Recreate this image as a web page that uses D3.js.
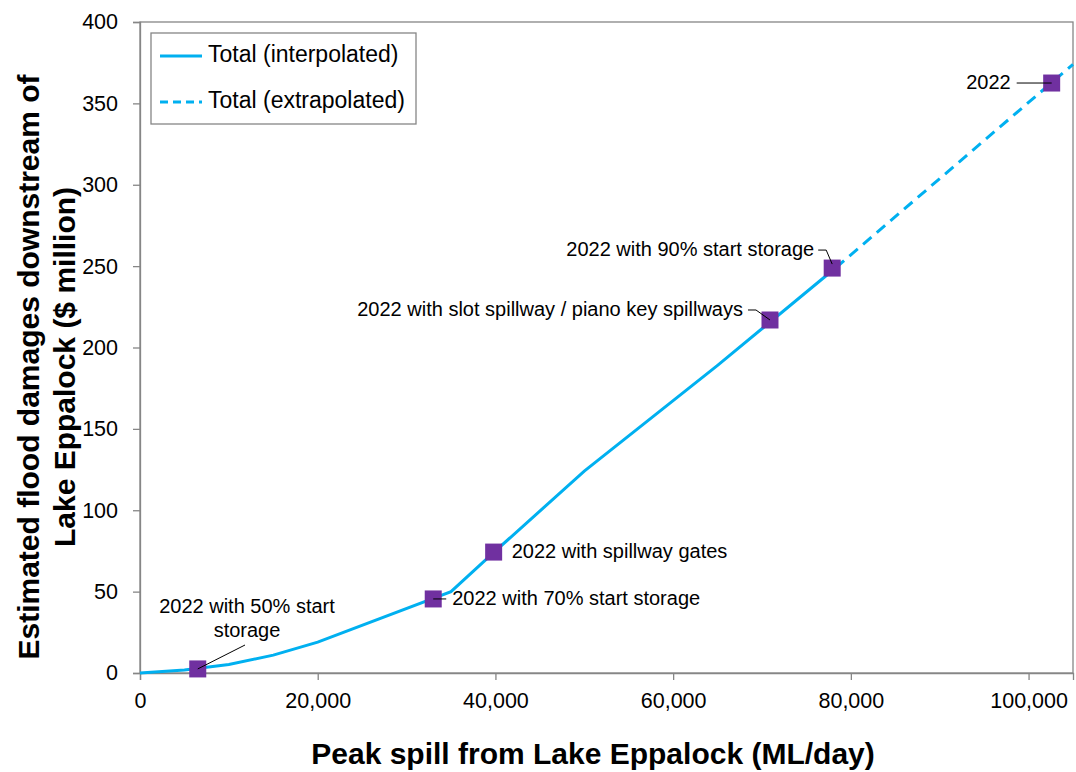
<!DOCTYPE html>
<html>
<head>
<meta charset="utf-8">
<script src="https://cdn.jsdelivr.net/npm/d3@7"></script>
<style>
  html, body { margin: 0; padding: 0; background: #fff; }
  svg { display: block; font-family: Arial, "Liberation Sans", sans-serif; }
</style>
</head>
<body>
<svg id="chart" width="1076" height="772"></svg>
<script>
// Peak spill (ML/day) vs estimated flood damages ($ million)
const interpSpill   = [0, 5000, 10000, 15000, 20000, 35000, 40000, 50000, 65000, 78300];
const interpDamage  = [0, 1.8, 5.2, 11, 19, 50, 75, 124, 189, 249];
const extrapSpill   = [78300, 105000];
const extrapDamage  = [249, 374];

const scenarioNames  = [
  "2022 with 50% start storage",
  "2022 with 70% start storage",
  "2022 with spillway gates",
  "2022 with slot spillway / piano key spillways",
  "2022 with 90% start storage",
  "2022"
];
const scenarioSpill  = [6500, 33000, 39800, 70900, 77900, 102600];
const scenarioDamage = [2.5, 45.5, 74.3, 216.9, 248.8, 362.5];

const xTicks = [0, 20000, 40000, 60000, 80000, 100000];
const yTicks = [0, 50, 100, 150, 200, 250, 300, 350, 400];

const lineColor = "#00B0F0";
const markerColor = "#7030A0";
const axisColor = "#868686";

const margin = { left: 140, top: 22, right: 1073, bottom: 673 };
const svg = d3.select("#chart");

const x = d3.scaleLinear().domain([0, 105000]).range([margin.left, margin.right]);
const y = d3.scaleLinear().domain([0, 400]).range([margin.bottom, margin.top]);

// plot frame
svg.append("rect")
  .attr("x", margin.left).attr("y", margin.top)
  .attr("width", margin.right - margin.left).attr("height", margin.bottom - margin.top)
  .attr("fill", "none").attr("stroke", axisColor).attr("stroke-width", 1.3);

// axes
const fmt = d3.format(",");
const xAxis = svg.append("g").attr("transform", `translate(0,${margin.bottom})`)
  .call(d3.axisBottom(x).tickValues(xTicks).tickFormat(fmt).tickSize(7).tickPadding(13));
const yAxis = svg.append("g").attr("transform", `translate(${margin.left},0)`)
  .call(d3.axisLeft(y).tickValues(yTicks).tickSize(7).tickPadding(15));
[xAxis, yAxis].forEach(g => {
  g.select(".domain").attr("stroke", axisColor).attr("stroke-width", 1.3);
  g.selectAll(".tick line").attr("stroke", axisColor).attr("stroke-width", 1.3);
  g.selectAll(".tick text").attr("fill", "#000").attr("font-size", 21.5)
    .attr("font-family", "Arial, 'Liberation Sans', sans-serif");
});

// axis titles
svg.append("text")
  .attr("x", 593).attr("y", 764)
  .attr("text-anchor", "middle").attr("font-size", 30).attr("font-weight", "bold")
  .text("Peak spill from Lake Eppalock (ML/day)");
const yt = svg.append("text")
  .attr("transform", "translate(0,367) rotate(-90)")
  .attr("text-anchor", "middle").attr("font-size", 30).attr("font-weight", "bold");
yt.append("tspan").attr("x", 0).attr("y", 39).text("Estimated flood damages downstream of");
yt.append("tspan").attr("x", 0).attr("y", 75).text("Lake Eppalock ($ million)");

// damage curves
const line = d3.line().x(d => x(d[0])).y(d => y(d[1]));
svg.append("path")
  .datum(interpSpill.map((s, i) => [s, interpDamage[i]]))
  .attr("d", line).attr("fill", "none")
  .attr("stroke", lineColor).attr("stroke-width", 3);
svg.append("path")
  .datum(extrapSpill.map((s, i) => [s, extrapDamage[i]]))
  .attr("d", line).attr("fill", "none")
  .attr("stroke", lineColor).attr("stroke-width", 3).attr("stroke-dasharray", "11,7");

// scenario labels and leader lines
const lbl = (text, lx, ly, anchor) => {
  svg.append("text").attr("x", lx).attr("y", ly).attr("text-anchor", anchor)
    .attr("font-size", 20).attr("dominant-baseline", "middle").text(text);
};
const leader = (pts) => {
  svg.append("path").attr("d", d3.line()(pts)).attr("fill", "none")
    .attr("stroke", "#000").attr("stroke-width", 1);
};
const px = i => x(scenarioSpill[i]);
const py = i => y(scenarioDamage[i]);

// 50% start storage (two lines)
lbl("2022 with 50% start", 247, 608, "middle");
lbl("storage", 247, 632, "middle");
// 70% start storage
lbl(scenarioNames[1], px(1) + 19, py(1) + 1, "start");
// spillway gates
lbl(scenarioNames[2], px(2) + 18, py(2) + 1, "start");
// slot spillway / piano key spillways
lbl(scenarioNames[3], px(3) - 27, py(3) - 9, "end");
// 90% start storage
lbl(scenarioNames[4], px(4) - 18, py(4) - 17, "end");
// 2022
lbl(scenarioNames[5], px(5) - 41, py(5) + 1, "end");

// scenario markers
const ms = 17;
svg.append("g").selectAll("rect")
  .data(scenarioSpill.map((s, i) => [s, scenarioDamage[i]]))
  .join("rect")
  .attr("x", d => x(d[0]) - ms / 2).attr("y", d => y(d[1]) - ms / 2)
  .attr("width", ms).attr("height", ms)
  .attr("fill", markerColor);

// leader lines drawn over the markers
leader([[245, 645], [px(0), py(0)]]);
leader([[px(1), py(1)], [px(1) + 13, py(1)]]);
leader([[px(3) - 22, py(3) - 10], [px(3) - 14, py(3) - 10], [px(3), py(3)]]);
leader([[px(4) - 14, py(4) - 18], [px(4) - 6, py(4) - 18], [px(4), py(4) - 4]]);
leader([[px(5) - 35, py(5)], [px(5), py(5)]]);

// legend
const lg = svg.append("g");
lg.append("rect").attr("x", 151).attr("y", 33).attr("width", 265).attr("height", 91)
  .attr("fill", "#fff").attr("stroke", axisColor).attr("stroke-width", 1.3);
const legendItems = [["Total (interpolated)", null], ["Total (extrapolated)", "8,5"]];
legendItems.forEach(([name, dash], i) => {
  const ly = 56 + i * 46;
  lg.append("line").attr("x1", 160).attr("x2", 202).attr("y1", ly).attr("y2", ly)
    .attr("stroke", lineColor).attr("stroke-width", 3)
    .attr("stroke-dasharray", dash);
  lg.append("text").attr("x", 208).attr("y", ly).attr("dominant-baseline", "middle")
    .attr("font-size", 23).text(name);
});
</script>
</body>
</html>
